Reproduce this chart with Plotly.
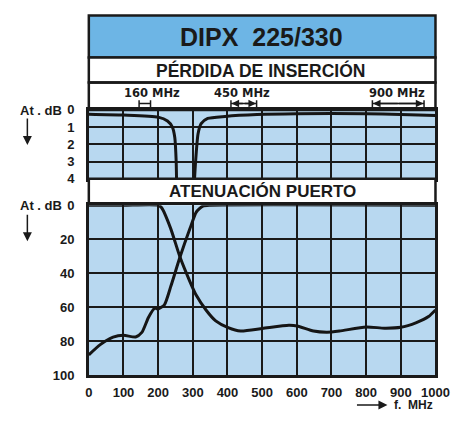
import plotly.graph_objects as go

# page body has an 8px margin; keep figure inside the 469x424 window
OFF = 8
W, H = 469 - 2 * OFF, 424 - 2 * OFF

# ---------------- data ----------------
# Insertion loss (dB), top panel
il_low_f = [0, 100, 200, 227, 241, 248, 252, 253]
il_low = [0.25, 0.3, 0.42, 0.65, 1.0, 1.6, 3.0, 4.0]
il_high_f = [305, 308, 315, 324, 343, 393, 485, 600, 800, 900, 1000]
il_high = [4.0, 3.0, 1.4, 0.8, 0.5, 0.38, 0.27, 0.22, 0.22, 0.27, 0.33]

# Port attenuation (dB), bottom panel
att_low_f = [0, 100, 200, 210, 236, 263, 291, 310, 338, 366, 402, 438, 501,
             577, 601, 648, 687, 723, 800, 853, 900, 945, 980, 1000]
att_low = [0, 0, 0, 1.5, 13.6, 30.5, 44.6, 53, 61.6, 68, 72, 74, 72.5,
           70.6, 71, 74, 74.7, 74, 71.6, 72.3, 71.8, 69, 65.5, 61.6]
att_high_f = [0, 33, 70, 100, 135, 153, 172, 190, 200, 218, 237, 263, 292,
              310, 329, 350, 1000]
att_high = [88, 82, 77.6, 76.5, 77.5, 74.8, 66, 60.5, 61, 58.6, 47.4, 30.5,
            13.6, 4, 0.5, 0, 0]

x_ticks = [0, 100, 200, 300, 400, 500, 600, 700, 800, 900, 1000]
il_ticks = [0, 1, 2, 3, 4]
att_ticks = [0, 20, 40, 60, 80, 100]

band_labels = ["160 MHz", "450 MHz", "900 MHz"]
band_label_x = [183, 443, 889]
band_lo = [145, 410, 818]
band_hi = [178, 484, 967]

# ---------------- layout helpers (window pixel -> paper) ----------------
def px(x):
    return (x - OFF) / W

def py(y):
    return 1 - (y - OFF) / H

L, R = 88, 449
TOP_T, TOP_B = 106.5, 178
BOT_T, BOT_B = 205.5, 382
PX_PER_MHZ = (R - L) / 1000.0

BLUE = "#6db5e5"
PLOT_BG = "#b8d8f0"
INK = "#1a1a1a"
CURVE = "#151515"

fig = go.Figure()
line_style = dict(color=CURVE, width=3, shape="spline", smoothing=0.6)
fig.add_trace(go.Scatter(x=il_low_f, y=il_low, mode="lines", line=line_style,
                         xaxis="x2", yaxis="y2", hoverinfo="skip"))
fig.add_trace(go.Scatter(x=il_high_f, y=il_high, mode="lines", line=line_style,
                         xaxis="x2", yaxis="y2", hoverinfo="skip"))
fig.add_trace(go.Scatter(x=att_low_f, y=att_low, mode="lines", line=line_style,
                         xaxis="x", yaxis="y", hoverinfo="skip"))
fig.add_trace(go.Scatter(x=att_high_f, y=att_high, mode="lines", line=line_style,
                         xaxis="x", yaxis="y", hoverinfo="skip"))

tick_font = dict(family="Liberation Sans, Arial, sans-serif", size=13,
                 color=INK, weight="bold")
common_x = dict(range=[0, 1000], tickvals=x_ticks, showgrid=True,
                gridcolor=INK, gridwidth=1.5, showline=True, linecolor=INK,
                linewidth=2.5, mirror=True, zeroline=False,
                domain=[px(L), px(R)], ticks="")

fig.update_layout(
    width=W, height=H,
    margin=dict(l=0, r=0, t=0, b=0),
    paper_bgcolor="white", plot_bgcolor=PLOT_BG, showlegend=False,
    xaxis=dict(**common_x, anchor="y", tickfont=tick_font,
               ticklabelstandoff=3, ticklabeloverflow="allow"),
    yaxis=dict(domain=[py(BOT_B), py(BOT_T)], range=[100, 0],
               tickvals=att_ticks, showgrid=True, gridcolor=INK,
               gridwidth=1.5, showline=True, linecolor=INK, linewidth=2.5,
               mirror=True, zeroline=False, tickfont=tick_font,
               ticklabelstandoff=9, anchor="x", ticks=""),
    xaxis2=dict(**common_x, anchor="y2", showticklabels=False, matches="x"),
    yaxis2=dict(domain=[py(TOP_B), py(TOP_T)], range=[4, 0],
                tickvals=il_ticks, showgrid=True, gridcolor=INK,
                gridwidth=1.5, showline=True, linecolor=INK, linewidth=2.5,
                mirror=True, zeroline=False, tickfont=tick_font,
                ticklabelstandoff=9, anchor="x2", ticks=""),
)

shapes = []
# title box
shapes.append(dict(type="rect", xref="paper", yref="paper",
                   x0=px(L), x1=px(R), y0=py(52), y1=py(8.5),
                   fillcolor=BLUE, line=dict(color=INK, width=2.5), layer="above"))
# "PÉRDIDA DE INSERCIÓN" box
shapes.append(dict(type="rect", xref="paper", yref="paper",
                   x0=px(L), x1=px(R), y0=py(78), y1=py(52),
                   fillcolor="white", line=dict(color=INK, width=2.5), layer="above"))
# band box
shapes.append(dict(type="rect", xref="paper", yref="paper",
                   x0=px(L), x1=px(R), y0=py(TOP_T), y1=py(78),
                   fillcolor="rgba(0,0,0,0)", line=dict(color=INK, width=2.5), layer="above"))
# "ATENUACIÓN PUERTO" box
shapes.append(dict(type="rect", xref="paper", yref="paper",
                   x0=px(L), x1=px(R), y0=py(BOT_T - 2), y1=py(TOP_B),
                   fillcolor="white", line=dict(color=INK, width=2.5), layer="above"))
# band markers
bar_y = 100
for lo, hi in zip(band_lo, band_hi):
    shapes.append(dict(type="line", xref="x2", yref="paper", x0=lo, x1=hi,
                       y0=py(bar_y), y1=py(bar_y), line=dict(color=INK, width=1.5)))
    for xv in (lo, hi):
        shapes.append(dict(type="line", xref="x2", yref="paper", x0=xv, x1=xv,
                           y0=py(bar_y - 3.5), y1=py(bar_y + 3.5),
                           line=dict(color=INK, width=1.5)))
fig.update_layout(shapes=shapes)

CM = dict(xanchor="center", yanchor="middle", showarrow=False)
annots = []
annots.append(dict(text="DIPX\u00a0\u00a0225/330", xref="paper", yref="paper",
                   x=px((L + R) / 2 - 1), y=py(31), **CM,
                   font=dict(family="Liberation Sans, Arial", size=25,
                             color=INK, weight="bold")))
annots.append(dict(text="PÉRDIDA DE INSERCIÓN", xref="paper", yref="paper",
                   x=px((L + R) / 2 - 2), y=py(66), **CM,
                   font=dict(family="Liberation Sans, Arial",
                             size=17.5, color=INK, weight="bold")))
annots.append(dict(text="ATENUACIÓN PUERTO", xref="paper", yref="paper",
                   x=px((L + R) / 2), y=py(191.5), **CM,
                   font=dict(family="Liberation Sans, Arial",
                             size=17, color=INK, weight="bold")))
for lab, xl in zip(band_labels, band_label_x):
    annots.append(dict(text=lab, xref="x2", yref="paper", x=xl, y=py(89), **CM,
                       font=dict(family="DejaVu Sans, sans-serif", size=11.5,
                                 color=INK, weight="bold")))
# arrowheads on the wider band markers, pointing to the end bars
for lo, hi in zip(band_lo[1:], band_hi[1:]):
    half = (hi - lo) / 2 - 2
    annots.append(dict(x=lo + 2, y=py(bar_y), ax=half * PX_PER_MHZ, ay=0,
                       xref="x2", yref="paper", text="", showarrow=True,
                       arrowhead=2, arrowsize=1, arrowwidth=1.5, arrowcolor=INK))
    annots.append(dict(x=hi - 2, y=py(bar_y), ax=-half * PX_PER_MHZ, ay=0,
                       xref="x2", yref="paper", text="", showarrow=True,
                       arrowhead=2, arrowsize=1, arrowwidth=1.5, arrowcolor=INK))
# axis captions
for yy, a0, a1 in ((107, 115, 143), (205.5, 215, 243)):
    annots.append(dict(text="At . dB", xref="paper", yref="paper",
                       x=px(62), y=py(yy), xanchor="right", yanchor="middle",
                       showarrow=False, font=tick_font))
    annots.append(dict(x=px(24), y=py(a1), ax=0, ay=-(a1 - a0),
                       xref="paper", yref="paper", text="", showarrow=True,
                       arrowhead=2, arrowsize=1.2, arrowwidth=1.5, arrowcolor=INK))
annots.append(dict(text="f.  MHz", xref="paper", yref="paper", x=px(449),
                   y=py(413), xanchor="right", yanchor="middle",
                   showarrow=False,
                   font=dict(family="Liberation Sans, Arial, sans-serif",
                             size=12, color=INK, weight="bold")))
annots.append(dict(x=px(399), y=py(413), ax=-32, ay=0,
                   xref="paper", yref="paper", text="", showarrow=True,
                   arrowhead=2, arrowsize=1.2, arrowwidth=1.5, arrowcolor=INK))
fig.update_layout(annotations=annots)

fig.write_html("out.html")
